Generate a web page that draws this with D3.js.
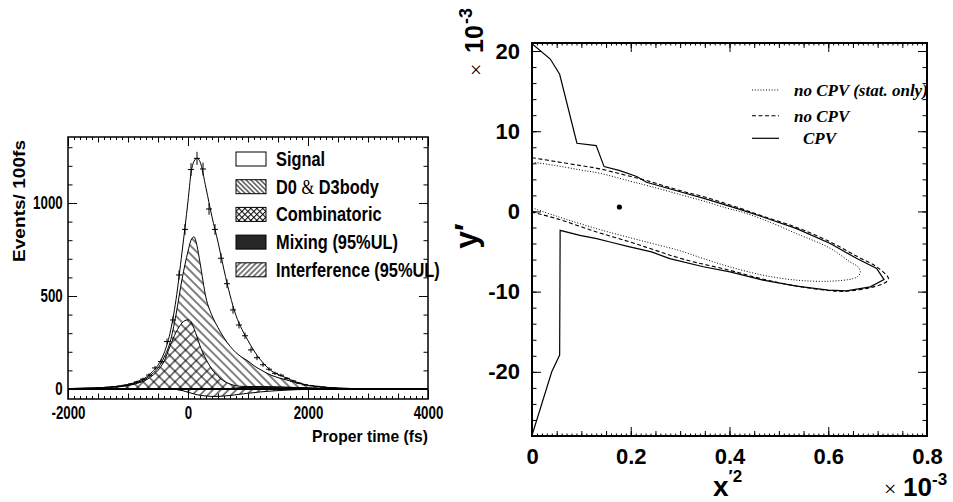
<!DOCTYPE html>
<html>
<head>
<meta charset="utf-8">
<script src="https://cdn.jsdelivr.net/npm/d3@7"></script>
<style>
body { margin: 0; background: #fff; }
svg { display: block; font-family: "Liberation Sans", Arial, Helvetica, sans-serif; }
</style>
</head>
<body>
<div id="fig"></div>
<script>
// ---- left panel: proper time fit, events / 100 fs ----
// the fit curves are cumulative, drawn the way the stacked histograms are
var fitT = [-2000,-1600,-1400,-1200,-1000,-900,-800,-700,-600,-500,-400,-300,-200,-100,0,50,100,150,200,300,400,500,600,700,800,900,1000,1100,1200,1400,1600,1800,2000,2200,2500,3000,3500,4000];
var fitTotal = [2,5,8,13,24,33,46,62,90,128,192,300,480,735,1010,1160,1225,1240,1222,1080,925,790,640,505,395,320,260,205,160,95,65,38,20,12,5,1,0,0];
var fitD0 = [2,5,7,12,21,29,40,55,80,112,170,250,400,590,740,800,818,770,680,490,395,330,275,230,195,170,150,125,105,72,52,34,19,11,4,1,0,0];
var fitComb = [1,4,6,10,18,25,35,48,70,100,148,230,305,355,372,362,325,280,232,160,105,68,42,27,17,14,13,13,13,12,10,8,6,4,2,0,0,0];
var fitMix = [0,0,0,0,0,0,0,0,0,0,0,0,-2,-7,-14,-16,-18,-18,-17,-14,-10,-6,-2,2,5,8,10,11,11,10,9,7,5,3,1,0,0,0];
var fitInterf = [0,0,0,0,0,0,0,0,0,0,0,0,-2,-8,-18,-22,-27,-31,-34,-38,-40,-40,-38,-35,-31,-27,-23,-20,-16,-11,-7,-4,-2,-1,0,0,0,0];

var binT = [-1450,-1350,-1250,-1150,-1050,-950,-850,-750,-650,-550,-450,-350,-250,-150,-50,50,150,250,350,450,550,650,750,850,950,1050,1150,1250,1350,1450,1550,1650,1750,1850,1950,2050,2150,2250,2350,2450];
var binN = [6,9,12,15,20,27,38,53,75,113,147,255,371,613,858,1180,1240,1183,968,858,703,566,425,344,286,210,168,130,106,84,74,57,43,31,22,18,14,10,7,5];

var legendNames = ['Signal', 'D0 & D3body', 'Combinatoric', 'Mixing (95%UL)', 'Interference (95%UL)'];

// ---- right panel: contours in (x'^2, y'), units of 1e-3 ----
var statX = [0,0.05,0.1,0.138,0.2,0.232,0.3,0.35,0.401,0.421,0.468,0.536,0.604,0.644,0.66,0.665,0.66,0.651,0.604,0.536,0.468,0.401,0.347,0.3,0.25,0.198,0.131,0.05,0];
var statY = [6.15,5.7,5.15,4.75,3.75,3.25,2.1,1.25,0.3,0.0,-1.0,-2.77,-4.6,-6.3,-6.9,-7.6,-8.1,-8.37,-8.7,-8.57,-7.95,-6.92,-5.88,-4.9,-4.1,-3.27,-2.15,-0.6,0.46];
var noCpvX = [0,0.05,0.1,0.138,0.2,0.232,0.3,0.35,0.421,0.468,0.536,0.604,0.658,0.698,0.722,0.715,0.685,0.637,0.6,0.536,0.468,0.401,0.306,0.25,0.198,0.131,0.05,0];
var noCpvY = [6.7,6.2,5.7,5.3,4.35,3.85,2.6,1.8,0.4,-0.6,-2.0,-3.8,-5.6,-6.9,-8.37,-8.9,-9.5,-9.95,-9.85,-9.3,-8.45,-7.35,-5.95,-4.85,-3.8,-2.56,-0.9,-0.08];
var cpvX = [0,0.037,0.056,0.091,0.130,0.146,0.178,0.212,0.232,0.3,0.35,0.421,0.468,0.536,0.604,0.658,0.698,0.713,0.685,0.637,0.6,0.536,0.468,0.401,0.347,0.279,0.242,0.198,0.158,0.131,0.097,0.057,0.056,0.04,0];
var cpvY = [20.9,19.0,17.1,8.5,8.2,5.59,5.09,4.35,3.64,2.45,1.6,0.25,-0.7,-2.15,-4.0,-5.88,-7.12,-8.5,-9.4,-9.9,-9.8,-9.32,-8.57,-7.54,-6.9,-5.88,-5.05,-4.43,-3.81,-3.4,-2.98,-2.36,-17.9,-20.0,-27.9];
var bestX = [0.177];
var bestY = [0.55];
var contourNames = ['no CPV (stat. only)', 'no CPV', 'CPV'];


var width = 953, height = 502;
var svg = d3.select('#fig').append('svg').attr('width', width).attr('height', height);
var defs = svg.append('defs');

function hatch(id, gap, angle, cross) {
    var p = defs.append('pattern').attr('id', id)
        .attr('patternUnits', 'userSpaceOnUse')
        .attr('width', gap).attr('height', gap)
        .attr('patternTransform', 'rotate(' + angle + ')');
    p.append('rect').attr('width', gap).attr('height', gap).attr('fill', '#fff');
    p.append('line').attr('x1', gap / 2).attr('x2', gap / 2).attr('y1', 0).attr('y2', gap)
        .attr('stroke', '#000').attr('stroke-width', 1);
    if (cross) p.append('line').attr('x1', 0).attr('x2', gap).attr('y1', gap / 2).attr('y2', gap / 2)
        .attr('stroke', '#000').attr('stroke-width', 1);
}
hatch('d0', 6, -45, false);
hatch('comb', 7.5, 45, true);
hatch('intf', 5.5, 45, false);
hatch('d0s', 3.4, -45, false);
hatch('combs', 4.2, 45, true);
hatch('intfs', 3.8, 45, false);

// inward ticks on one side of a frame
function ticks(g, axisFn, scale, values, len, tx, ty) {
    g.append('g').attr('transform', 'translate(' + tx + ',' + ty + ')')
        .call(axisFn(scale).tickValues(values).tickSizeInner(-len).tickSizeOuter(0).tickFormat(''))
        .call(s => s.select('.domain').remove())
        .selectAll('line').attr('stroke', '#000');
}
function labels(g, axisFn, scale, values, pad, tx, ty, size) {
    return g.append('g').attr('transform', 'translate(' + tx + ',' + ty + ')')
        .call(axisFn(scale).tickValues(values).tickSize(0).tickPadding(pad).tickFormat(d => String(d)))
        .call(s => s.select('.domain').remove())
        .attr('font-family', null).attr('font-size', size).attr('font-weight', 'bold');
}

// ================= left panel =================
var lp = {left: 68, right: 428, top: 137, bottom: 399};
var xT = d3.scaleLinear().domain([-2000, 4000]).range([lp.left, lp.right]);
var yN = d3.scaleLinear().domain([-54, 1355]).range([lp.bottom, lp.top]);

defs.append('clipPath').attr('id', 'clipL').append('rect')
    .attr('x', lp.left).attr('y', lp.top).attr('width', lp.right - lp.left).attr('height', lp.bottom - lp.top);

var gL = svg.append('g');
var plotL = gL.append('g').attr('clip-path', 'url(#clipL)');

var area = d3.area().curve(d3.curveMonotoneX)
    .x((d, i) => xT(fitT[i])).y0(yN(0)).y1(d => yN(d));
var fitLine = d3.line().curve(d3.curveMonotoneX)
    .x((d, i) => xT(fitT[i])).y(d => yN(d));

var layers = [[fitTotal, '#fff'], [fitD0, 'url(#d0)'], [fitComb, 'url(#comb)'], [fitMix, '#262626'], [fitInterf, 'url(#intf)']];
layers.forEach(function (l) {
    plotL.append('path').attr('d', area(l[0])).attr('fill', l[1]);
    plotL.append('path').attr('d', fitLine(l[0])).attr('fill', 'none')
        .attr('stroke', '#000').attr('stroke-width', 1);
});

plotL.append('line').attr('x1', xT(-2000)).attr('x2', xT(4000))
    .attr('y1', yN(0)).attr('y2', yN(0)).attr('stroke', '#000').attr('stroke-width', 2);

var bins = plotL.selectAll('g.bin').data(binT).enter().append('g').attr('class', 'bin')
    .attr('stroke', '#000').attr('stroke-width', 1);
bins.append('line')
    .attr('x1', t => xT(t - 50)).attr('x2', t => xT(t + 50))
    .attr('y1', (t, i) => yN(binN[i])).attr('y2', (t, i) => yN(binN[i]));
bins.append('line')
    .attr('x1', t => xT(t)).attr('x2', t => xT(t))
    .attr('y1', (t, i) => yN(binN[i] - Math.sqrt(binN[i])))
    .attr('y2', (t, i) => yN(binN[i] + Math.sqrt(binN[i])));

gL.append('rect').attr('x', lp.left).attr('y', lp.top)
    .attr('width', lp.right - lp.left).attr('height', lp.bottom - lp.top)
    .attr('fill', 'none').attr('stroke', '#000').attr('stroke-width', 1.5);

[[d3.range(-2000, 4001, 100), 3], [d3.range(-2000, 4001, 500), 5.5], [[-2000, 0, 2000, 4000], 9]].forEach(function (t) {
    ticks(gL, d3.axisBottom, xT, t[0], t[1], 0, lp.bottom);
    ticks(gL, d3.axisTop, xT, t[0], t[1], 0, lp.top);
});
[[d3.range(0, 1301, 100), 4.5], [[0, 500, 1000], 9]].forEach(function (t) {
    ticks(gL, d3.axisLeft, yN, t[0], t[1], lp.left, 0);
    ticks(gL, d3.axisRight, yN, t[0], t[1], lp.right, 0);
});

labels(gL, d3.axisBottom, xT, [-2000, 0, 2000, 4000], 7.5, 0, lp.bottom, 17.5)
    .selectAll('text').attr('transform', 'scale(0.76,1)');
labels(gL, d3.axisLeft, yN, [0, 500, 1000], 7, lp.left, 0, 17.5)
    .selectAll('text').attr('transform', 'scale(0.76,1)');

gL.append('text').attr('x', lp.right).attr('y', 442).attr('text-anchor', 'end')
    .attr('font-size', 17).attr('font-weight', 'bold')
    .attr('textLength', 116).attr('lengthAdjust', 'spacingAndGlyphs')
    .text('Proper time (fs)');
gL.append('text').attr('transform', 'translate(25,201) rotate(-90)').attr('text-anchor', 'middle')
    .attr('font-size', 16).attr('font-weight', 'bold')
    .attr('textLength', 122).attr('lengthAdjust', 'spacingAndGlyphs')
    .text('Events/ 100fs');

// legend
var legFills = ['#fff', 'url(#d0s)', 'url(#combs)', '#262626', 'url(#intfs)'];
var leg = gL.selectAll('g.leg').data(legendNames).enter().append('g').attr('class', 'leg')
    .attr('transform', (d, i) => 'translate(236,' + (159 + i * 27.7) + ')');
leg.append('rect').attr('x', 0).attr('y', -7).attr('width', 30).attr('height', 14)
    .attr('fill', (d, i) => legFills[i]).attr('stroke', '#000').attr('stroke-width', 1);
var legText = leg.append('g').attr('transform', 'translate(40,7) scale(0.78,1)')
    .append('text').attr('font-size', 21).attr('font-weight', 'bold');
legText.each(function (d) {
    var t = d3.select(this);
    if (d.indexOf('&') > 0) {
        var parts = d.split('&');
        t.append('tspan').text(parts[0]);
        t.append('tspan').attr('font-family', '"Liberation Serif", "Times New Roman", serif')
            .attr('font-weight', 'normal').text('&');
        t.append('tspan').text(parts[1]);
    } else {
        t.text(d);
    }
});

// ================= right panel =================
var rp = {left: 532, right: 927, top: 43, bottom: 436};
var xR = d3.scaleLinear().domain([0, 0.8]).range([rp.left, rp.right]);
var yR = d3.scaleLinear().domain([-28, 21]).range([rp.bottom, rp.top]);

defs.append('clipPath').attr('id', 'clipR').append('rect')
    .attr('x', rp.left).attr('y', rp.top).attr('width', rp.right - rp.left).attr('height', rp.bottom - rp.top);

var gR = svg.append('g');
var plotR = gR.append('g').attr('clip-path', 'url(#clipR)');

function pts(xs, ys) { return xs.map((x, i) => [x, ys[i]]); }
var smooth = d3.line().curve(d3.curveCatmullRom.alpha(0.5)).x(d => xR(d[0])).y(d => yR(d[1]));
var straight = d3.line().x(d => xR(d[0])).y(d => yR(d[1]));

var contours = [
    {p: pts(statX, statY), gen: smooth, dash: '1,1.8', w: 1},
    {p: pts(noCpvX, noCpvY), gen: smooth, dash: '4,2.5', w: 1.1},
    {p: pts(cpvX, cpvY), gen: straight, dash: null, w: 1.2}
];
contours.forEach(function (c) {
    plotR.append('path').attr('d', c.gen(c.p)).attr('fill', 'none')
        .attr('stroke', '#000').attr('stroke-width', c.w).attr('stroke-dasharray', c.dash);
});
plotR.selectAll('circle.best').data(bestX).enter().append('circle').attr('class', 'best')
    .attr('cx', d => xR(d)).attr('cy', (d, i) => yR(bestY[i])).attr('r', 2.6).attr('fill', '#000');

gR.append('rect').attr('x', rp.left).attr('y', rp.top)
    .attr('width', rp.right - rp.left).attr('height', rp.bottom - rp.top)
    .attr('fill', 'none').attr('stroke', '#000').attr('stroke-width', 2);

[[d3.range(0, 81, 1).map(v => v / 100), 2.5], [d3.range(0, 17, 1).map(v => v * 0.05), 5], [[0, 0.2, 0.4, 0.6, 0.8], 9]].forEach(function (t) {
    ticks(gR, d3.axisBottom, xR, t[0], t[1], 0, rp.bottom);
    ticks(gR, d3.axisTop, xR, t[0], t[1], 0, rp.top);
});
[[d3.range(-28, 21, 2), 4.5], [[-20, -10, 0, 10, 20], 9]].forEach(function (t) {
    ticks(gR, d3.axisLeft, yR, t[0], t[1], rp.left, 0);
    ticks(gR, d3.axisRight, yR, t[0], t[1], rp.right, 0);
});

labels(gR, d3.axisBottom, xR, [0, 0.2, 0.4, 0.6, 0.8], 12, 0, rp.bottom, 22);
labels(gR, d3.axisLeft, yR, [-20, -10, 0, 10, 20], 12, rp.left, 0, 22);

// axis titles
var xTitle = gR.append('text').attr('x', 713).attr('y', 496).attr('font-weight', 'bold');
xTitle.append('tspan').attr('font-size', 28).text('x');
xTitle.append('tspan').attr('font-size', 17).attr('dy', -14).text('\u20322');

gR.append('text').attr('transform', 'translate(477,236) rotate(-90)').attr('text-anchor', 'middle')
    .attr('font-size', 32).attr('font-weight', 'bold').text('y\u2032');

var expY = gR.append('text').attr('transform', 'translate(483,76) rotate(-90)').attr('font-weight', 'bold');
expY.append('tspan').attr('x', 0).attr('font-size', 22).attr('font-weight', 'normal')
    .attr('font-family', '"Liberation Serif", "Times New Roman", serif').text('\u00d7');
expY.append('tspan').attr('x', 23).attr('font-size', 25).text('10');
expY.append('tspan').attr('x', 52).attr('dy', -11).attr('font-size', 18).text('-3');

var expX = gR.append('text').attr('x', 884).attr('y', 496).attr('font-weight', 'bold');
expX.append('tspan').attr('font-size', 22).attr('font-weight', 'normal')
    .attr('font-family', '"Liberation Serif", "Times New Roman", serif').text('\u00d7');
expX.append('tspan').attr('x', 903).attr('font-size', 26).text('10');
expX.append('tspan').attr('x', 932).attr('dy', -11).attr('font-size', 17).text('-3');

// contour legend
var cLeg = gR.selectAll('g.cleg').data(contourNames).enter().append('g').attr('class', 'cleg')
    .attr('transform', (d, i) => 'translate(0,' + [90, 115.7, 138.3][i] + ')');
cLeg.append('line').attr('x1', 752).attr('x2', 779).attr('y1', 0).attr('y2', 0)
    .attr('stroke', '#000').attr('stroke-width', (d, i) => contours[i].w)
    .attr('stroke-dasharray', (d, i) => contours[i].dash);
cLeg.append('text').attr('x', (d, i) => i === 2 ? 803 : 794).attr('y', 6)
    .attr('font-family', '"Liberation Serif", "Times New Roman", serif')
    .attr('font-style', 'italic').attr('font-weight', 'bold').attr('font-size', 17)
    .text(d => d);
</script>
</body>
</html>
